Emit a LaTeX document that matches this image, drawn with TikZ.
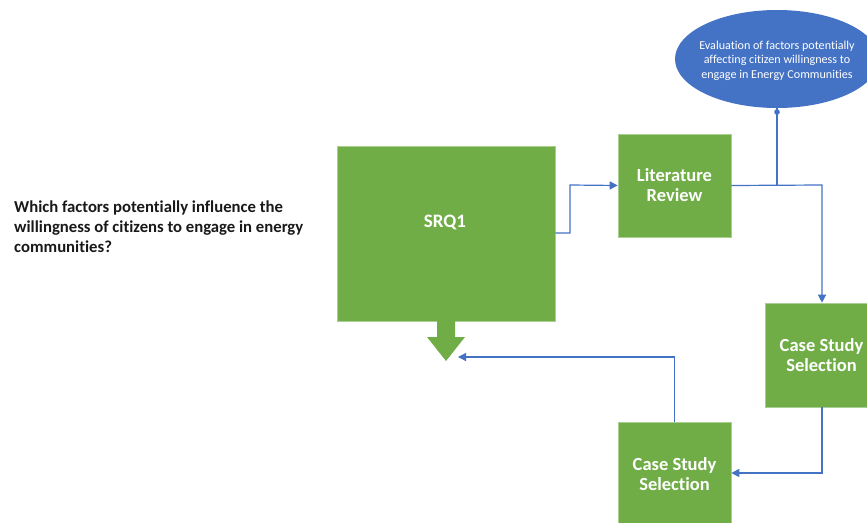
\documentclass[tikz,border=0pt]{standalone}
\usepackage{fontspec}
\setmainfont{Carlito}[Ligatures=NoCommon]
\usetikzlibrary{arrows.meta,shapes.geometric}
\definecolor{boxgreen}{HTML}{70AD47}
\definecolor{linkblue}{HTML}{4472C4}
\begin{document}
\begin{tikzpicture}[x=1pt,y=-1pt,
  greenbox/.style={fill=boxgreen,draw=boxgreen!60!white,line width=0.6pt,inner sep=0pt,
    text=white,font=\fontsize{18.5}{20}\selectfont\bfseries,align=center},
  link/.style={draw=linkblue,line width=1.2pt},
  tip/.style={-{Triangle[length=8pt,width=8pt]}}]
\clip (0,0) rectangle (867,522);
\fill[white] (0,0) rectangle (867,522);

% question text
\node[anchor=north west,align=left,font=\fontsize{16.7}{20}\selectfont\bfseries,text=black!90,inner sep=0pt]
  (question) at (14,201) {Which factors potentially influence the\\willingness of citizens to engage in energy\\communities?};

% main boxes
\node[greenbox,minimum width=218pt,minimum height=175pt] (srq) at (446,233.5) {};
\node[text=white,font=\fontsize{19}{20}\selectfont\bfseries,inner sep=0pt] (srqlabel) at (445,222) {SRQ1};
\node[greenbox,minimum width=113pt,minimum height=103pt] (lit) at (674.5,185.5) {Literature\\Review};
\node[greenbox,minimum width=113pt,minimum height=104pt] (case1) at (821.5,355) {Case Study\\Selection};
\node[greenbox,minimum width=113pt,minimum height=104pt] (case2) at (674.5,474) {Case Study\\Selection};

% evaluation ellipse and its text
\node[ellipse,fill=linkblue,minimum width=204pt,minimum height=98pt,inner sep=0pt] (eval) at (777,59) {};
\node[text=white,font=\fontsize{12.1}{14.5}\selectfont,align=center,inner sep=0pt] (evaltext) at (777,60.5)
  {Evaluation of factors potentially\\affecting citizen willingness to\\engage in Energy Communities};

% block arrow below SRQ1
\fill[boxgreen] (437,321) -- (455,321) -- (455,337) -- (465,337) -- (446,361)
  -- (427,337) -- (437,337) -- cycle;
\coordinate (junction) at (777,185);
\coordinate (dot) at (777,112);

% connectors
\draw[link,tip] (srq.east |- 0,233) -- (570,233) -- (570,185) -- (lit.west);
\draw[link,tip] (lit.east) -- (822,185) -- (case1.north -| 822,0);
\draw[link] (eval.south) -- (junction);
\fill[linkblue] (dot) circle (2.8pt);
\draw[link,tip] (case1.south -| 822,0) -- (822,473) -- (case2.east |- 0,473);
\draw[link,tip] (case2.north) -- (674.5,357) -- (458,357);
\end{tikzpicture}
\end{document}
